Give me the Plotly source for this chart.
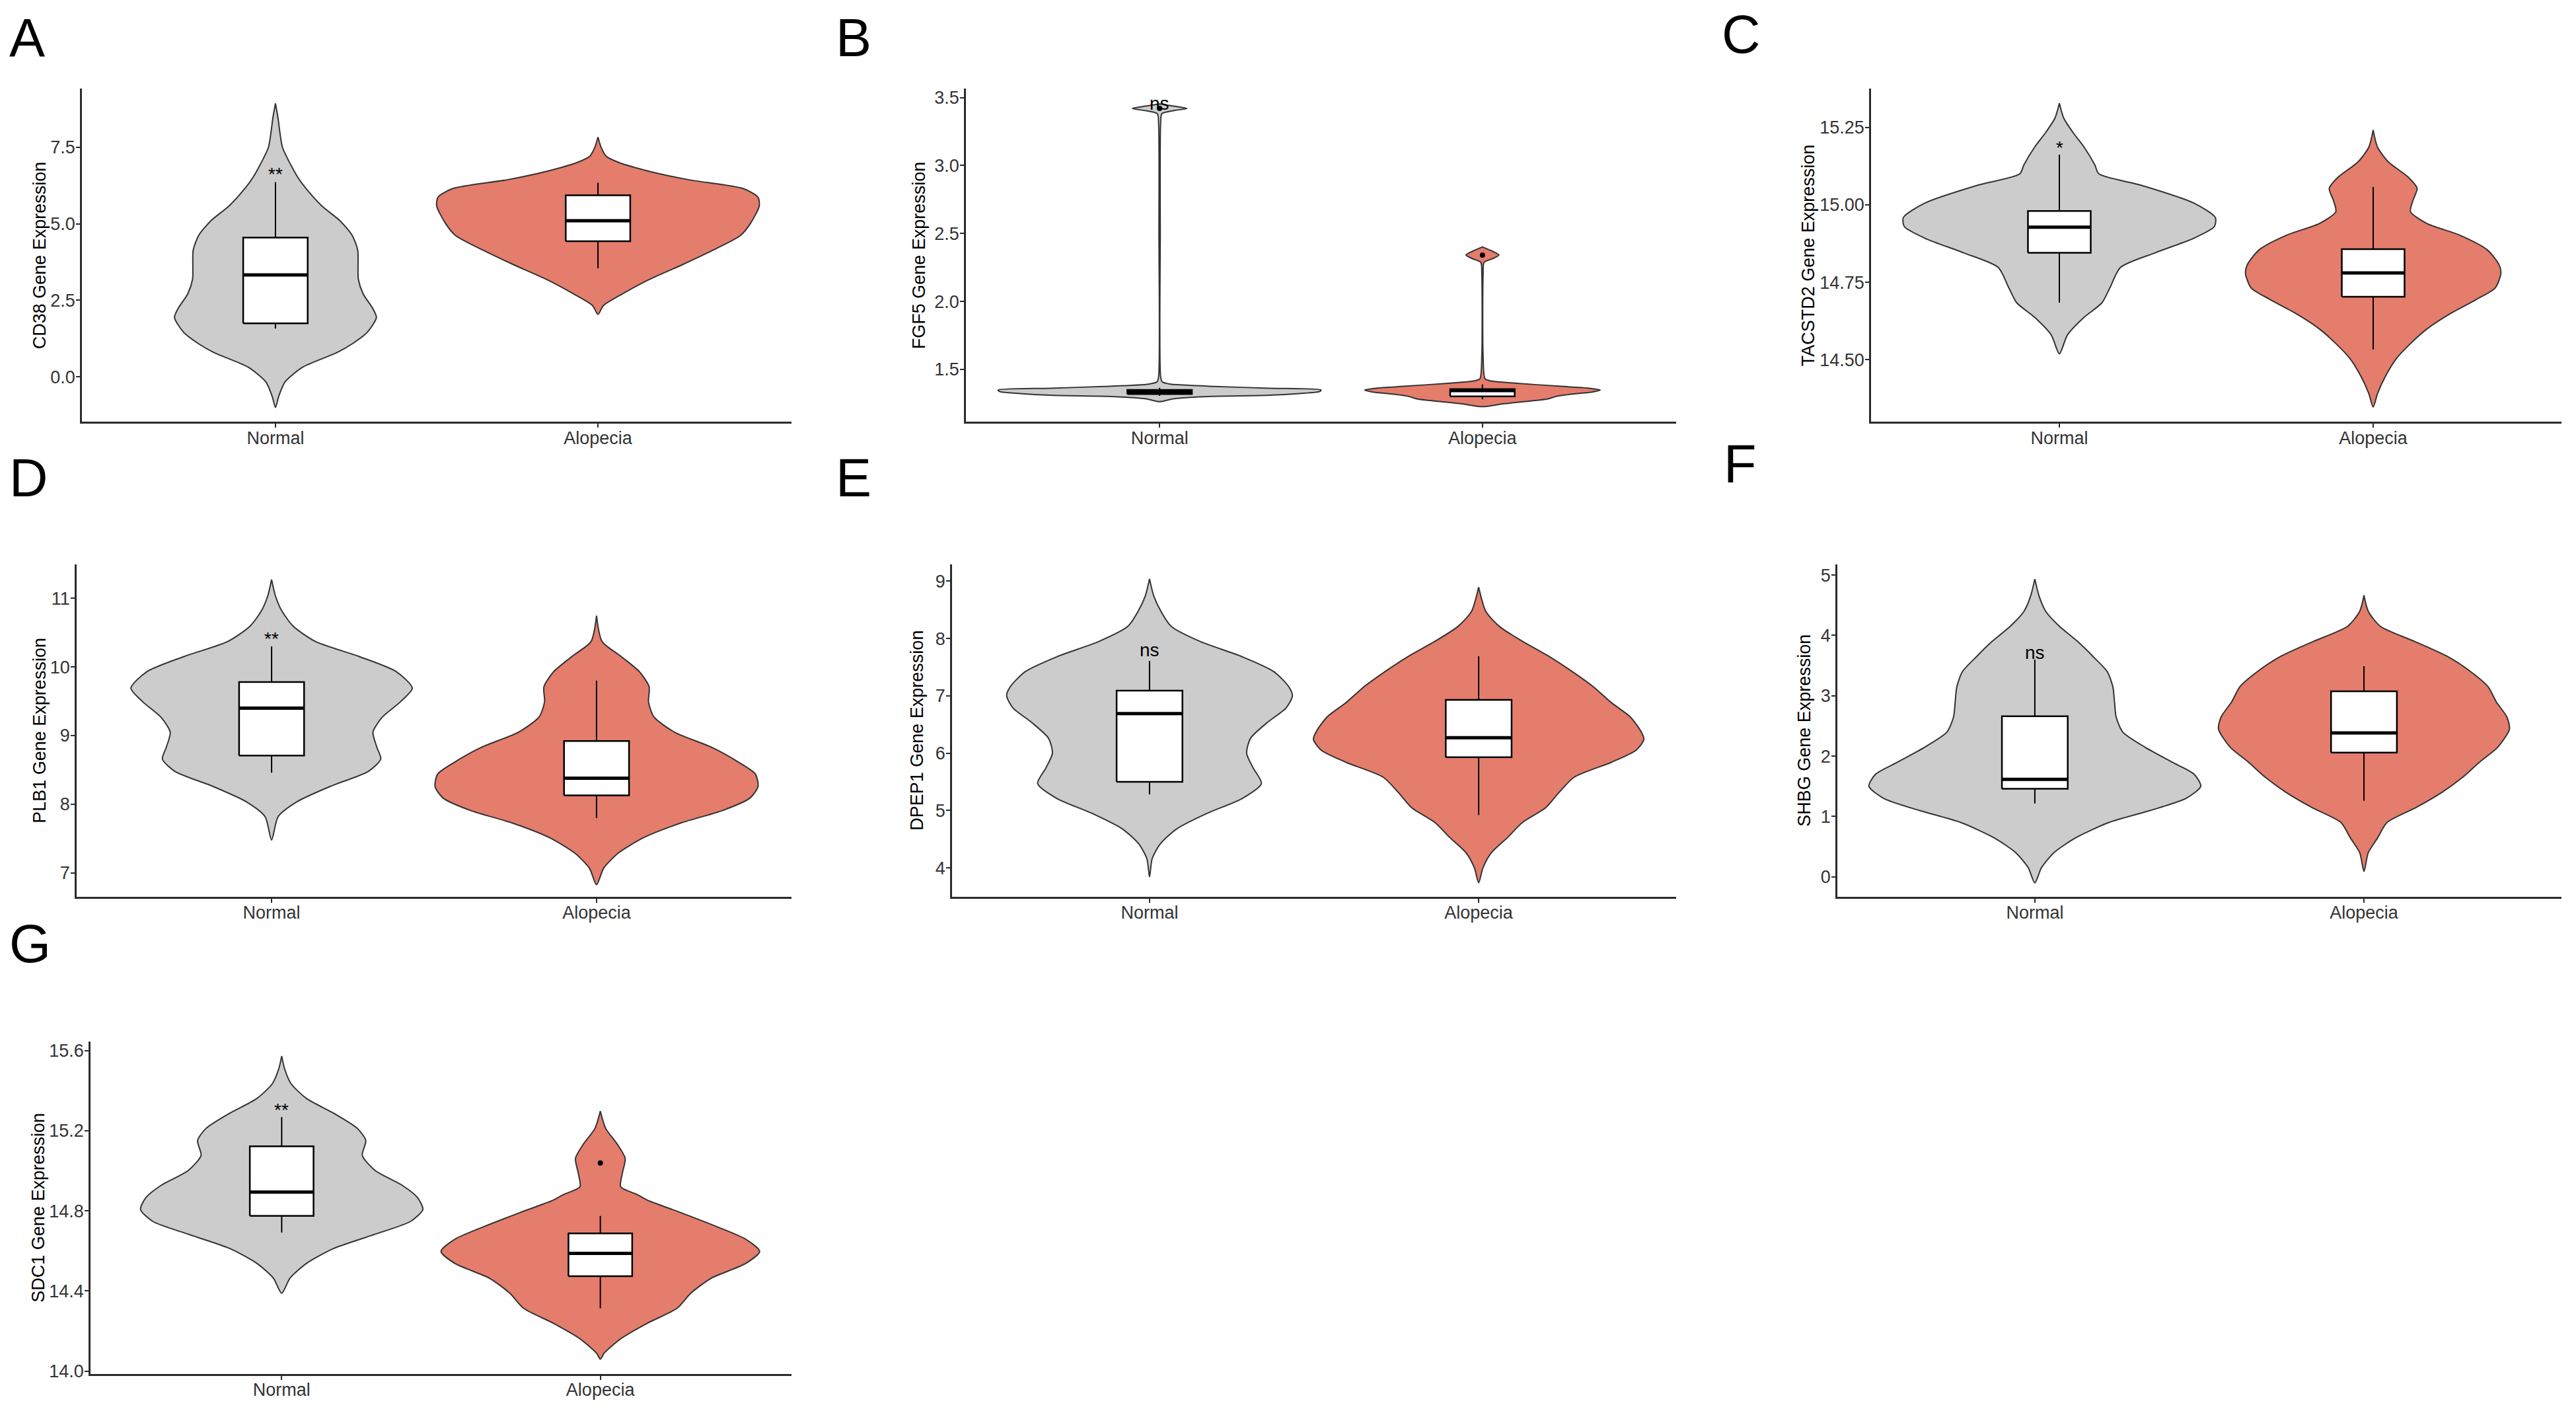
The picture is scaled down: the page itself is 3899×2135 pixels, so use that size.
import plotly.graph_objects as go

W, H = 3899, 2135

genes = ["CD38", "FGF5", "TACSTD2", "PLB1", "DPEP1", "SHBG", "SDC1"]
letters = ["A", "B", "C", "D", "E", "F", "G"]
groups = ["Normal", "Alopecia"]

# violin outlines: y value and half width (in category units)
cd38_normal_y = [-1.0, -0.64, -0.16, 0.32, 0.79, 1.08, 1.46, 1.94, 2.23, 2.71, 3.19, 4.14, 4.62, 5.10, 5.58, 6.06, 6.54, 7.49, 7.97, 8.45, 8.93]
cd38_normal_hw = [0, 0.010, 0.030, 0.085, 0.190, 0.238, 0.285, 0.313, 0.302, 0.272, 0.257, 0.255, 0.238, 0.200, 0.144, 0.102, 0.068, 0.022, 0.014, 0.008, 0]
cd38_alopecia_y = [2.04, 2.33, 2.71, 3.19, 3.67, 4.14, 4.62, 5.00, 5.58, 5.87, 6.15, 6.44, 6.73, 7.01, 7.21, 7.49, 7.83]
cd38_alopecia_hw = [0, 0.017, 0.076, 0.161, 0.263, 0.357, 0.442, 0.472, 0.500, 0.496, 0.450, 0.280, 0.153, 0.063, 0.025, 0.010, 0]

fgf5_normal_y = [1.263, 1.284, 1.300, 1.310, 1.323, 1.338, 1.349, 1.362, 1.375, 1.392, 1.409, 1.45, 2.5, 3.30, 3.381, 3.403, 3.42, 3.435, 3.453]
fgf5_normal_hw = [0, 0.042, 0.136, 0.34, 0.433, 0.496, 0.50, 0.34, 0.17, 0.034, 0.008, 0.003, 0.002, 0.003, 0.007, 0.042, 0.085, 0.05, 0]
fgf5_alopecia_y = [1.226, 1.248, 1.267, 1.284, 1.302, 1.319, 1.334, 1.349, 1.362, 1.377, 1.399, 1.416, 1.431, 1.6, 2.20, 2.287, 2.315, 2.341, 2.369, 2.401]
fgf5_alopecia_hw = [0, 0.068, 0.144, 0.204, 0.229, 0.28, 0.34, 0.365, 0.331, 0.238, 0.10, 0.025, 0.008, 0.002, 0.002, 0.005, 0.031, 0.051, 0.031, 0]

tacstd2_normal_y = [14.519, 14.580, 14.637, 14.684, 14.732, 14.798, 14.845, 14.892, 14.930, 14.959, 15.006, 15.063, 15.100, 15.129, 15.186, 15.233, 15.280, 15.328]
tacstd2_normal_hw = [0, 0.026, 0.079, 0.136, 0.161, 0.195, 0.305, 0.428, 0.494, 0.497, 0.428, 0.262, 0.126, 0.113, 0.079, 0.044, 0.014, 0]
tacstd2_alopecia_y = [14.347, 14.391, 14.448, 14.505, 14.552, 14.599, 14.646, 14.694, 14.732, 14.779, 14.807, 14.855, 14.902, 14.940, 14.978, 15.015, 15.053, 15.091, 15.138, 15.186, 15.242]
tacstd2_alopecia_hw = [0, 0.014, 0.040, 0.075, 0.119, 0.171, 0.241, 0.328, 0.389, 0.407, 0.401, 0.363, 0.276, 0.171, 0.119, 0.127, 0.140, 0.110, 0.049, 0.014, 0]

plb1_normal_y = [7.48, 7.82, 8.04, 8.26, 8.48, 8.66, 8.83, 9.05, 9.27, 9.49, 9.69, 9.93, 10.15, 10.37, 10.59, 10.81, 11.03, 11.27]
plb1_normal_hw = [0, 0.020, 0.079, 0.180, 0.298, 0.336, 0.324, 0.312, 0.341, 0.396, 0.433, 0.384, 0.270, 0.135, 0.067, 0.032, 0.012, 0]
plb1_alopecia_y = [6.83, 7.07, 7.29, 7.51, 7.73, 7.91, 8.09, 8.26, 8.44, 8.61, 8.83, 9.05, 9.27, 9.49, 9.71, 9.93, 10.15, 10.37, 10.745]
plb1_alopecia_hw = [0, 0.022, 0.067, 0.143, 0.261, 0.388, 0.472, 0.497, 0.489, 0.438, 0.354, 0.240, 0.177, 0.160, 0.162, 0.132, 0.076, 0.017, 0]

dpep1_normal_y = [3.84, 4.16, 4.42, 4.68, 4.95, 5.21, 5.47, 5.74, 6.00, 6.26, 6.53, 6.79, 7.00, 7.16, 7.42, 7.68, 7.95, 8.21, 8.47, 8.74, 9.04]
dpep1_normal_hw = [0, 0.008, 0.033, 0.083, 0.175, 0.282, 0.340, 0.315, 0.295, 0.307, 0.357, 0.415, 0.434, 0.423, 0.378, 0.282, 0.153, 0.066, 0.035, 0.013, 0]
dpep1_alopecia_y = [3.74, 4.00, 4.26, 4.53, 4.79, 5.05, 5.32, 5.58, 5.84, 6.05, 6.24, 6.37, 6.63, 6.89, 7.16, 7.42, 7.68, 7.95, 8.21, 8.47, 8.895]
dpep1_alopecia_hw = [0, 0.013, 0.038, 0.088, 0.133, 0.204, 0.245, 0.290, 0.403, 0.478, 0.502, 0.494, 0.461, 0.401, 0.348, 0.285, 0.216, 0.133, 0.063, 0.022, 0]

shbg_normal_y = [-0.10, 0.15, 0.40, 0.65, 0.90, 1.10, 1.30, 1.50, 1.70, 1.90, 2.15, 2.40, 2.65, 2.90, 3.15, 3.40, 3.65, 3.90, 4.15, 4.40, 4.65, 4.935]
shbg_normal_hw = [0, 0.020, 0.058, 0.125, 0.225, 0.351, 0.459, 0.504, 0.484, 0.417, 0.334, 0.267, 0.247, 0.242, 0.237, 0.220, 0.177, 0.130, 0.075, 0.033, 0.013, 0]
shbg_alopecia_y = [0.09, 0.40, 0.65, 0.90, 1.15, 1.40, 1.65, 1.90, 2.15, 2.45, 2.65, 2.90, 3.15, 3.40, 3.65, 3.90, 4.15, 4.40, 4.665]
shbg_alopecia_hw = [0, 0.013, 0.042, 0.070, 0.159, 0.237, 0.300, 0.351, 0.407, 0.442, 0.434, 0.402, 0.377, 0.324, 0.254, 0.154, 0.050, 0.013, 0]

sdc1_normal_y = [14.389, 14.464, 14.538, 14.613, 14.688, 14.748, 14.807, 14.867, 14.927, 15.002, 15.077, 15.151, 15.211, 15.286, 15.361, 15.436, 15.510, 15.573]
sdc1_normal_hw = [0, 0.026, 0.078, 0.164, 0.302, 0.405, 0.443, 0.426, 0.379, 0.293, 0.253, 0.264, 0.238, 0.165, 0.078, 0.029, 0.009, 0]
sdc1_alopecia_y = [14.060, 14.090, 14.164, 14.239, 14.314, 14.389, 14.464, 14.538, 14.598, 14.658, 14.718, 14.793, 14.852, 14.882, 14.920, 14.987, 15.062, 15.136, 15.211, 15.298]
sdc1_alopecia_hw = [0, 0.012, 0.066, 0.147, 0.241, 0.284, 0.348, 0.457, 0.500, 0.457, 0.371, 0.250, 0.150, 0.115, 0.064, 0.069, 0.078, 0.052, 0.017, 0]

# box statistics per gene
q1_normal = [1.75, 1.319, 14.845, 8.71, 5.50, 1.46, 14.775]
median_normal = [3.33, 1.334, 14.928, 9.40, 6.69, 1.615, 14.894]
q3_normal = [4.55, 1.349, 14.98, 9.78, 7.09, 2.66, 15.122]
lower_normal = [1.58, 1.305, 14.684, 8.46, 5.28, 1.215, 14.692]
upper_normal = [6.36, 1.365, 15.162, 10.30, 7.61, 3.60, 15.268]

q1_alopecia = [4.43, 1.302, 14.703, 8.13, 5.93, 2.06, 14.474]
median_alopecia = [5.10, 1.345, 14.78, 8.38, 6.27, 2.385, 14.588]
q3_alopecia = [5.93, 1.355, 14.857, 8.92, 6.93, 3.075, 14.688]
lower_alopecia = [3.55, 1.28, 14.533, 7.80, 4.92, 1.26, 14.314]
upper_alopecia = [6.34, 1.39, 15.058, 9.80, 7.69, 3.49, 14.775]

outliers_normal = [[], [3.42], [], [], [], [], []]
outliers_alopecia = [[], [2.341], [], [], [], [], [15.039]]

sig_labels = ["**", "ns", "*", "**", "ns", "ns", "**"]
sig_y = [6.75, 3.45, 15.197, 10.47, 7.79, 3.70, 15.323]

y_ranges = [[-1.47, 9.41], [1.114, 3.565], [14.299, 15.375], [6.65, 11.49],
            [3.49, 9.29], [-0.335, 5.175], [13.985, 15.645]]
y_ticks = [[0, 2.5, 5, 7.5], [1.5, 2.0, 2.5, 3.0, 3.5], [14.5, 14.75, 15.0, 15.25],
           [7, 8, 9, 10, 11], [4, 5, 6, 7, 8, 9], [0, 1, 2, 3, 4, 5],
           [14.0, 14.4, 14.8, 15.2, 15.6]]
y_fmt = [".1f", ".1f", ".2f", "d", "d", "d", ".1f"]

profiles = [
    (cd38_normal_y, cd38_normal_hw, cd38_alopecia_y, cd38_alopecia_hw),
    (fgf5_normal_y, fgf5_normal_hw, fgf5_alopecia_y, fgf5_alopecia_hw),
    (tacstd2_normal_y, tacstd2_normal_hw, tacstd2_alopecia_y, tacstd2_alopecia_hw),
    (plb1_normal_y, plb1_normal_hw, plb1_alopecia_y, plb1_alopecia_hw),
    (dpep1_normal_y, dpep1_normal_hw, dpep1_alopecia_y, dpep1_alopecia_hw),
    (shbg_normal_y, shbg_normal_hw, shbg_alopecia_y, shbg_alopecia_hw),
    (sdc1_normal_y, sdc1_normal_hw, sdc1_alopecia_y, sdc1_alopecia_hw),
]

# layout in pixels: plot box (x0, x1, y0, y1), y title x, letter pos
panel_px = [(124, 1198, 134, 641), (1462, 2537, 134, 641), (2832, 3877, 134, 641),
            (116, 1198, 858, 1364), (1441, 2537, 858, 1364), (2781, 3877, 858, 1364),
            (137, 1198, 1584, 2090)]
ytitle_x = [60, 1391, 2737, 60, 1388, 2731, 58]
letter_xy = [(12, 56), (1263, 56), (2604, 51), (12, 726), (1263, 726), (2607, 705), (12, 1435)]

FONT = "Arial, Liberation Sans, sans-serif"
fills = {"Normal": "#CCCCCC", "Alopecia": "#E47D6C"}
AXIS_COL = "#2b2b2b"
BOX_HALF = 0.1

fig = go.Figure()
annotations = []

for i, gene in enumerate(genes):
    n = i + 1
    xa, ya = f"x{n}", f"y{n}"
    ny, nhw, ay, ahw = profiles[i]
    stats = {
        "Normal": (q1_normal[i], median_normal[i], q3_normal[i], lower_normal[i], upper_normal[i], outliers_normal[i]),
        "Alopecia": (q1_alopecia[i], median_alopecia[i], q3_alopecia[i], lower_alopecia[i], upper_alopecia[i], outliers_alopecia[i]),
    }
    for pos, (grp, ys, hws) in enumerate([("Normal", ny, nhw), ("Alopecia", ay, ahw)], start=1):
        # violin outline: right side upward, left side downward
        xs = [pos + w for w in hws] + [pos - w for w in hws[::-1]]
        yy = list(ys) + list(ys[::-1])
        fig.add_trace(go.Scatter(
            x=xs, y=yy, xaxis=xa, yaxis=ya, mode="lines", fill="toself",
            fillcolor=fills[grp], line=dict(color="#333333", width=2, shape="spline", smoothing=0.7),
            hoverinfo="skip", showlegend=False))
        q1, med, q3, lo, hi, outs = stats[grp]
        # whiskers
        fig.add_trace(go.Scatter(
            x=[pos, pos, None, pos, pos], y=[q3, hi, None, q1, lo], xaxis=xa, yaxis=ya,
            mode="lines", line=dict(color="black", width=2), hoverinfo="skip", showlegend=False))
        # box
        fig.add_trace(go.Scatter(
            x=[pos - BOX_HALF, pos + BOX_HALF, pos + BOX_HALF, pos - BOX_HALF, pos - BOX_HALF],
            y=[q1, q1, q3, q3, q1], xaxis=xa, yaxis=ya, mode="lines", fill="toself",
            fillcolor="white", line=dict(color="black", width=2.5), hoverinfo="skip", showlegend=False))
        # median
        fig.add_trace(go.Scatter(
            x=[pos - BOX_HALF, pos + BOX_HALF], y=[med, med], xaxis=xa, yaxis=ya, mode="lines",
            line=dict(color="black", width=5), hoverinfo="skip", showlegend=False))
        if outs:
            fig.add_trace(go.Scatter(
                x=[pos] * len(outs), y=outs, xaxis=xa, yaxis=ya, mode="markers",
                marker=dict(color="black", size=8), hoverinfo="skip", showlegend=False))

    x0, x1, y0, y1 = panel_px[i]
    common = dict(showline=True, linecolor=AXIS_COL, linewidth=2.5, ticks="outside",
                  ticklen=6, tickwidth=2, tickcolor=AXIS_COL, showgrid=False, zeroline=False,
                  tickfont=dict(family=FONT, size=27, color="#333333"), fixedrange=True)
    fig.update_layout({
        f"xaxis{n}": dict(domain=[x0 / W, x1 / W], range=[0.4, 2.6], tickvals=[1, 2],
                          ticktext=groups, anchor=ya, ticklabelstandoff=-8, **common),
        f"yaxis{n}": dict(domain=[1 - y1 / H, 1 - y0 / H], range=y_ranges[i],
                          tickvals=y_ticks[i], tickformat=y_fmt[i], anchor=xa,
                          ticklabelstandoff=-4, **common),
    })

    lab = sig_labels[i]
    annotations.append(dict(
        x=1, y=sig_y[i], xref=xa, yref=ya, text=lab, showarrow=False,
        yshift=-6 if "*" in lab else 1,
        font=dict(family=FONT, size=28, color="black"), xanchor="center", yanchor="middle"))
    annotations.append(dict(
        x=ytitle_x[i] / W, y=1 - (y0 + y1) / 2 / H, xref="paper", yref="paper",
        text=f"{gene} Gene Expression", textangle=-90, showarrow=False,
        font=dict(family=FONT, size=27, color="black"), xanchor="center", yanchor="middle"))
    lx, ly = letter_xy[i]
    annotations.append(dict(
        x=lx / W, y=1 - ly / H, xref="paper", yref="paper", text=letters[i],
        showarrow=False, font=dict(family=FONT, size=81, color="black"),
        xanchor="left", yanchor="middle"))

fig.update_layout(
    width=W, height=H, autosize=False,
    margin=dict(l=0, r=0, t=0, b=0),
    paper_bgcolor="white", plot_bgcolor="white",
    annotations=annotations,
)

fig.write_html("out.html", config={"displayModeBar": False},
               post_script="document.body.style.margin='0';")
